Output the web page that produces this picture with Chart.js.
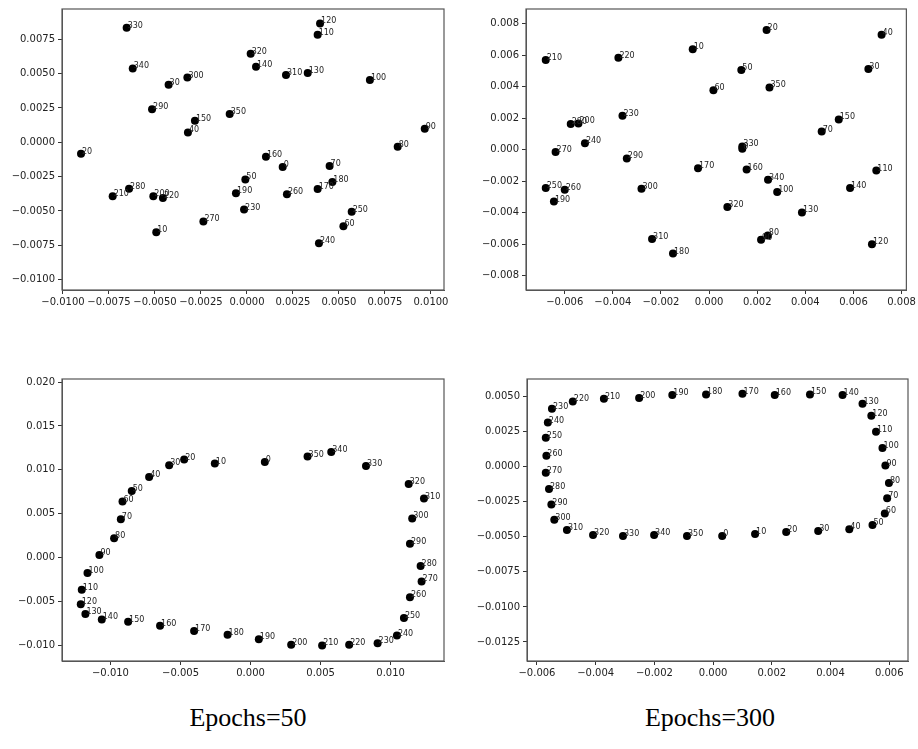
<!DOCTYPE html>
<html>
<head>
<meta charset="utf-8">
<script src="https://cdn.jsdelivr.net/npm/chart.js@4.4.1/dist/chart.umd.min.js"></script>
<style>
  html, body { margin: 0; padding: 0; background: #fff; }
  body { width: 918px; height: 749px; position: relative; overflow: hidden; }
  .pane { position: absolute; }
  .cap { position: absolute; font-family: "Liberation Serif", "Times New Roman", serif; font-size: 26px; color: #000; transform: translate(-50%, -50%); white-space: nowrap; }
</style>
</head>
<body>
<div class="pane" id="w1" style="left:0px;top:0px;width:470px;height:320px;"><canvas id="c1"></canvas></div>
<div class="pane" id="w2" style="left:459px;top:0px;width:459px;height:320px;"><canvas id="c2"></canvas></div>
<div class="pane" id="w3" style="left:0px;top:370px;width:470px;height:320px;"><canvas id="c3"></canvas></div>
<div class="pane" id="w4" style="left:459px;top:370px;width:459px;height:320px;"><canvas id="c4"></canvas></div>
<div class="cap" style="left:248px;top:718px;">Epochs=50</div>
<div class="cap" style="left:710px;top:718px;">Epochs=300</div>
<script>
// ---- data (angles label every point) ----
const angles = [0,10,20,30,40,50,60,70,80,90,100,110,120,130,140,150,160,170,180,190,200,210,220,230,240,250,260,270,280,290,300,310,320,330,340,350];

// top-left panel
const p1x = [0.00194,-0.00493,-0.00902,-0.00426,-0.00321,-0.00009,0.00524,0.00449,0.00819,0.00966,0.00668,0.00384,0.00397,0.0033,0.00049,-0.00283,0.00103,0.00384,0.00464,-0.0006,-0.00509,-0.0073,-0.00457,-0.00016,0.00391,0.00569,0.00217,-0.00237,-0.00641,-0.00516,-0.00324,0.00212,0.0002,-0.00654,-0.00621,-0.00094];
const p1y = [-0.0018,-0.00656,-0.00083,0.00418,0.00072,-0.00271,-0.00612,-0.00173,-0.00033,0.00099,0.00454,0.00783,0.00865,0.00504,0.0055,0.00156,-0.00105,-0.00341,-0.0029,-0.00372,-0.00393,-0.00393,-0.00406,-0.0049,-0.00735,-0.00506,-0.00379,-0.00576,-0.00339,0.00241,0.00471,0.0049,0.00644,0.00834,0.00538,0.00205];

// top-right panel
const p2x = [0.00138,-0.00068,0.00239,0.00662,0.00717,0.00134,0.00018,0.00468,0.00244,0.00216,0.00283,0.00695,0.00677,0.00386,0.00586,0.00539,0.00156,-0.00046,-0.0015,-0.00645,-0.00543,-0.00679,-0.00377,-0.0036,-0.00516,-0.00679,-0.006,-0.00638,-0.00575,-0.00342,-0.00281,-0.00237,0.00076,0.00138,0.00245,0.00251];
const p2y = [0.00006,0.00638,0.0076,0.00512,0.0073,0.00506,0.00377,0.00115,-0.00544,-0.00571,-0.00268,-0.00132,-0.006,-0.00398,-0.00243,0.00192,-0.00126,-0.00117,-0.00659,-0.00329,0.00167,0.00569,0.00584,0.00215,0.00041,-0.00243,-0.00254,-0.00015,0.00163,-0.00055,-0.00247,-0.00567,-0.00364,0.00021,-0.00191,0.00395];

// bottom-left panel (Epochs=50)
const p3x = [0.00102,-0.00255,-0.00474,-0.00581,-0.00724,-0.00848,-0.00914,-0.00926,-0.00974,-0.01079,-0.01164,-0.01205,-0.01212,-0.01179,-0.01062,-0.00874,-0.00646,-0.00403,-0.00164,0.00059,0.0029,0.00511,0.00704,0.00907,0.01045,0.01095,0.01138,0.01221,0.01214,0.01138,0.01154,0.01238,0.01129,0.00824,0.00576,0.00407];
const p3y = [0.0109,0.01072,0.01117,0.01053,0.00918,0.0076,0.00639,0.00436,0.00221,0.00029,-0.00174,-0.00366,-0.0053,-0.00643,-0.00704,-0.0073,-0.00775,-0.00835,-0.0088,-0.0093,-0.00993,-0.01001,-0.00993,-0.00975,-0.00888,-0.00689,-0.00451,-0.00271,-0.00095,0.00158,0.00447,0.00673,0.00839,0.01045,0.01203,0.01151];

// bottom-right panel (Epochs=300)
const p4x = [0.00031,0.00143,0.00249,0.00358,0.00464,0.00543,0.00585,0.00593,0.00599,0.00587,0.00577,0.00555,0.00539,0.00509,0.00441,0.0033,0.0021,0.001,-0.00024,-0.00139,-0.00252,-0.00372,-0.00478,-0.00549,-0.00563,-0.0057,-0.00568,-0.0057,-0.00559,-0.00551,-0.00541,-0.00498,-0.00409,-0.00307,-0.00201,-0.00089];
const p4y = [-0.00494,-0.0048,-0.00465,-0.00458,-0.00446,-0.00416,-0.00333,-0.00225,-0.00116,0.00009,0.00135,0.0025,0.00365,0.0045,0.00512,0.00517,0.00512,0.00521,0.00517,0.00512,0.00491,0.00486,0.00467,0.00415,0.00316,0.00208,0.0008,-0.00042,-0.00159,-0.00269,-0.00378,-0.00451,-0.00487,-0.00494,-0.00487,-0.00494];

// tick values
const p1xTicks = [-0.01,-0.0075,-0.005,-0.0025,0,0.0025,0.005,0.0075,0.01];
const p1yTicks = [-0.01,-0.0075,-0.005,-0.0025,0,0.0025,0.005,0.0075];
const p2xTicks = [-0.006,-0.004,-0.002,0,0.002,0.004,0.006,0.008];
const p2yTicks = [-0.008,-0.006,-0.004,-0.002,0,0.002,0.004,0.006,0.008];
const p3xTicks = [-0.01,-0.005,0,0.005,0.01];
const p3yTicks = [-0.01,-0.005,0,0.005,0.01,0.015,0.02];
const p4xTicks = [-0.006,-0.004,-0.002,0,0.002,0.004,0.006];
const p4yTicks = [-0.0125,-0.01,-0.0075,-0.005,-0.0025,0,0.0025,0.005];

function fmt(v, d) {
  let s = Math.abs(v) < 1e-12 ? (0).toFixed(d) : v.toFixed(d);
  return s.replace('-', '\u2212');
}

const labelPlugin = {
  id: 'pointLabels',
  afterDatasetsDraw(chart) {
    const ctx = chart.ctx;
    const meta = chart.getDatasetMeta(0);
    ctx.save();
    ctx.font = '8px "DejaVu Sans"';
    ctx.fillStyle = '#222';
    ctx.textAlign = 'left';
    ctx.textBaseline = 'alphabetic';
    meta.data.forEach((el, i) => {
      ctx.fillText(String(angles[i]), el.x + 1, el.y);
    });
    ctx.restore();
  }
};

const framePlugin = {
  id: 'frame',
  afterDraw(chart) {
    const a = chart.chartArea;
    const ctx = chart.ctx;
    ctx.save();
    ctx.strokeStyle = '#555';
    ctx.lineWidth = 1.2;
    ctx.strokeRect(a.left, a.top, a.right - a.left, a.bottom - a.top);
    ctx.restore();
  }
};

function makePanel(id, pane, area, xs, ys, xr, yr, xt, yt, xd, yd) {
  // pane: [left, top, width, height]; area: [L, T, R, B] in page pixels
  const padTop = area[1] - pane[1];
  const padRight = pane[0] + pane[2] - area[2];
  const yW = area[0] - pane[0];
  const xH = pane[1] + pane[3] - area[3];
  const pts = angles.map((a, i) => ({ x: xs[i], y: ys[i] }));
  const tickFont = { family: '"DejaVu Sans"', size: 10 };
  return new Chart(document.getElementById(id), {
    type: 'scatter',
    data: { datasets: [{ data: pts, backgroundColor: '#000', borderColor: '#000', pointRadius: 4, pointHoverRadius: 4, borderWidth: 0 }] },
    options: {
      responsive: true, maintainAspectRatio: false, animation: false,
      events: [],
      layout: { padding: { top: padTop, right: padRight, left: 0, bottom: 0 } },
      plugins: { legend: { display: false }, tooltip: { enabled: false } },
      scales: {
        x: {
          type: 'linear', min: xr[0], max: xr[1],
          afterBuildTicks: (s) => { s.ticks = xt.map(v => ({ value: v })); },
          afterFit: (s) => { s.height = xH; },
          ticks: { autoSkip: false, maxRotation: 0, color: '#222', font: tickFont, padding: 2, callback: (v) => fmt(v, xd) },
          grid: { display: true, drawOnChartArea: false, drawTicks: true, tickLength: 4, color: '#333' },
          border: { display: true, color: '#555' }
        },
        y: {
          type: 'linear', min: yr[0], max: yr[1],
          afterBuildTicks: (s) => { s.ticks = yt.map(v => ({ value: v })); },
          afterFit: (s) => { s.width = yW; },
          ticks: { autoSkip: false, color: '#222', font: tickFont, padding: 3, callback: (v) => fmt(v, yd) },
          grid: { display: true, drawOnChartArea: false, drawTicks: true, tickLength: 4, color: '#333' },
          border: { display: true, color: '#555' }
        }
      }
    },
    plugins: [labelPlugin, framePlugin]
  });
}

makePanel('c1', [0, 0, 470, 320], [62, 6, 444, 290], p1x, p1y, [-0.010054, 0.010707], [-0.010757, 0.009705], p1xTicks, p1yTicks, 4, 4);
makePanel('c2', [459, 0, 459, 320], [526, 6, 908, 290], p2x, p2y, [-0.00761, 0.0082], [-0.0089, 0.00893], p2xTicks, p2yTicks, 3, 3);
makePanel('c3', [0, 370, 470, 320], [62, 377, 444, 661], p3x, p3y, [-0.01346, 0.01381], [-0.01178, 0.02035], p3xTicks, p3yTicks, 3, 3);
makePanel('c4', [459, 370, 459, 320], [527, 377, 908, 661], p4x, p4y, [-0.00634, 0.00664], [-0.01386, 0.00627], p4xTicks, p4yTicks, 3, 4);
</script>
</body>
</html>
